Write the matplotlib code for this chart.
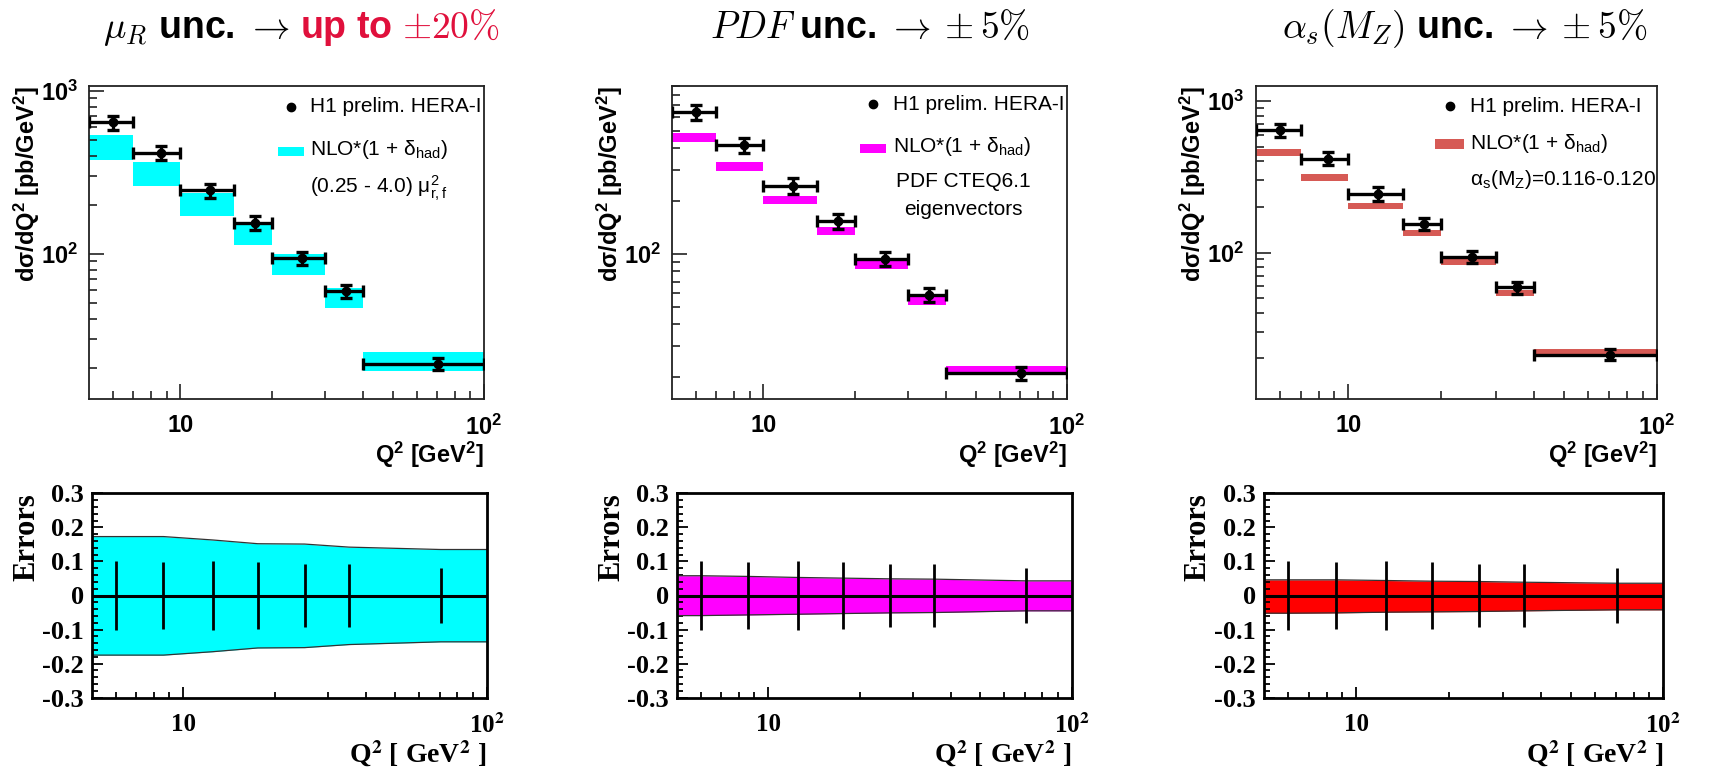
import numpy as np
import matplotlib
matplotlib.use('Agg')
import matplotlib.pyplot as plt
from matplotlib.patches import Rectangle
from matplotlib.ticker import FixedLocator, NullFormatter, MultipleLocator

plt.rcParams['font.family'] = ['Liberation Sans', 'DejaVu Sans']
plt.rcParams['mathtext.fontset'] = 'custom'
plt.rcParams['mathtext.rm'] = 'Liberation Sans'
plt.rcParams['mathtext.bf'] = 'Liberation Sans:bold'
plt.rcParams['mathtext.it'] = 'Liberation Sans:italic'

# Q^2 binning and bin centres
q2_edges = [5, 7, 10, 15, 20, 30, 40, 100]
q2_centers = [6.0, 8.6, 12.5, 17.6, 25.1, 35.2, 70.6]

# H1 preliminary HERA-I dijet cross sections [pb/GeV^2] and relative errors
xsec_data = [640, 417, 245, 155, 94, 59, 21.2]
xsec_rel_err = [0.100, 0.098, 0.101, 0.098, 0.093, 0.091, 0.082]

# NLO*(1+delta_had) central prediction [pb/GeV^2]
xsec_nlo = [459, 314, 204, 135, 87.2, 54.4, 22.2]

# relative theory uncertainties per bin
scale_up = [0.173, 0.173, 0.163, 0.152, 0.151, 0.142, 0.135]
scale_dn = [-0.175, -0.175, -0.165, -0.154, -0.153, -0.144, -0.136]
pdf_up = [0.058, 0.056, 0.053, 0.051, 0.049, 0.048, 0.043]
pdf_dn = [-0.059, -0.057, -0.055, -0.053, -0.051, -0.050, -0.045]
alphas_up = [0.046, 0.046, 0.044, 0.042, 0.041, 0.039, 0.036]
alphas_dn = [-0.052, -0.051, -0.049, -0.048, -0.047, -0.045, -0.042]

W, H = 1732, 767
fig = plt.figure(figsize=(W / 100, H / 100), dpi=100)


def px_axes(x0, y0, x1, y1):
    return fig.add_axes([x0 / W, 1 - y1 / H, (x1 - x0) / W, (y1 - y0) / H])


minor_q2 = [6, 7, 8, 9, 20, 30, 40, 50, 60, 70, 80, 90]


def draw_top(ax, up, dn, color, ylim):
    lo = np.array(q2_edges[:-1], float)
    hi = np.array(q2_edges[1:], float)
    nlo = np.array(xsec_nlo)
    b_lo = nlo * (1 + np.array(dn))
    b_hi = nlo * (1 + np.array(up))
    ax.bar(lo, b_hi - b_lo, width=hi - lo, bottom=b_lo, align='edge',
           color=color, lw=0, zorder=1)
    x = np.array(q2_centers)
    y = np.array(xsec_data)
    ax.errorbar(x, y, xerr=[x - lo, hi - x], yerr=y * np.array(xsec_rel_err),
                fmt='o', color='k', ms=6, elinewidth=2.4, capsize=4.5,
                capthick=2.4, zorder=3)
    ax.set_xscale('log')
    ax.set_yscale('log')
    ax.set_xlim(5, 100)
    ax.set_ylim(*ylim)
    ax.set_xticks([10, 100], labels=['10', r'10$^{\mathbf{2}}$'],
                  fontweight='bold', fontsize=17)
    ax.xaxis.set_minor_locator(FixedLocator(minor_q2))
    ax.xaxis.set_minor_formatter(NullFormatter())
    decades = [10 ** k for k in range(1, 4) if ylim[0] <= 10 ** k <= ylim[1]]
    ax.set_yticks(decades, labels=[r'10$^{\mathbf{%d}}$' % round(np.log10(d)) for d in decades],
                  fontweight='bold', fontsize=17)
    ymin = [m * 10 ** k for k in range(1, 4) for m in range(2, 10)]
    ax.yaxis.set_minor_locator(FixedLocator(ymin))
    ax.yaxis.set_minor_formatter(NullFormatter())
    ax.tick_params(which='both', direction='in', top=False, right=False, width=1.2, color='#222')
    ax.tick_params(which='major', length=11)
    ax.tick_params(which='minor', length=5.5)
    ax.tick_params(axis='x', pad=11)
    ax.tick_params(axis='y', pad=8)
    for s in ax.spines.values():
        s.set_linewidth(1.3)
        s.set_color('#222')
    ax.set_ylabel('dσ/dQ$^{\\mathbf{2}}$ [pb/GeV$^{\\mathbf{2}}$]',
                  fontweight='bold', fontsize=17, loc='top')
    ax.yaxis.set_label_coords(-0.118, 1.0)
    ax.set_xlabel(r'Q$^{\mathbf{2}}$ [GeV$^{\mathbf{2}}$]', fontweight='bold',
                  fontsize=17, loc='right')
    ax.xaxis.set_label_coords(1.0, -0.13)


def draw_legend(ax, lx, ly, tx, lines):
    ax.plot([lx], [ly], 'o', color='k', ms=6, transform=ax.transAxes, clip_on=False)
    ax.text(tx, ly, 'H1 prelim. HERA-I', transform=ax.transAxes, fontsize=15,
            va='center', ha='left')
    for pos, txt, kw in lines:
        ax.text(*pos, txt, transform=ax.transAxes, fontsize=15,
                va='center', **kw)


def draw_bottom(ax, up, dn, color):
    x = [5] + q2_centers + [100]
    u = [up[0]] + up + [up[-1]]
    d = [dn[0]] + dn + [dn[-1]]
    ax.fill_between(x, d, u, color=color, lw=0, zorder=1)
    ax.plot(x, u, color='#333', lw=0.9, zorder=2)
    ax.plot(x, d, color='#333', lw=0.9, zorder=2)
    ax.axhline(0, color='k', lw=2.2, zorder=3)
    err = np.array(xsec_rel_err)
    ax.vlines(q2_centers, -err, err, color='k', lw=2.0, zorder=4)
    ax.set_xscale('log')
    ax.set_xlim(5, 100)
    ax.set_ylim(-0.3, 0.3)
    serif = dict(fontfamily='Liberation Serif', fontweight='bold')
    ax.set_xticks([10, 100], labels=['10', r'10$^{\mathbf{2}}$'], fontsize=18,
                  math_fontfamily='stix', **serif)
    ax.xaxis.set_minor_locator(FixedLocator(minor_q2))
    ax.xaxis.set_minor_formatter(NullFormatter())
    yt = [-0.3, -0.2, -0.1, 0, 0.1, 0.2, 0.3]
    ax.set_yticks(yt, labels=['-0.3', '-0.2', '-0.1', '0', '0.1', '0.2', '0.3'],
                  fontsize=19, **serif)
    ax.yaxis.set_minor_locator(MultipleLocator(0.02))
    ax.tick_params(which='both', direction='in', top=False, right=False, width=1.3)
    ax.tick_params(which='major', length=8)
    ax.tick_params(which='minor', length=4)
    ax.tick_params(axis='x', pad=11)
    ax.tick_params(axis='y', pad=6)
    for s in ax.spines.values():
        s.set_linewidth(2.0)
    ax.set_ylabel('Errors', fontsize=22, loc='top', **serif)
    ax.yaxis.set_label_coords(-0.128, 1.0)
    ax.set_xlabel(r'Q$^{\mathbf{2}}$ [ GeV$^{\mathbf{2}}$ ]', fontsize=20,
                  loc='right', math_fontfamily='stix', **serif)
    ax.xaxis.set_label_coords(1.0, -0.2)


cyan = '#00FFFF'
magenta = '#FF00FF'
salmon = '#D65A55'
red = '#FF0000'

# top row: cross sections
ax1 = px_axes(89, 86, 484, 399)
draw_top(ax1, scale_up, scale_dn, cyan, (12.9, 1070))
draw_legend(ax1, 0.511, 0.933, 0.559, [
    ((0.559, 0.796), 'NLO*(1 + δ$_{\\mathrm{had}}$)', {}),
    ((0.559, 0.674), '(0.25 - 4.0) μ$^{\\mathrm{2}}_{\\mathrm{r,f}}$', {}),
])
ax1.add_patch(Rectangle((0.478, 0.776), 0.066, 0.029, transform=ax1.transAxes,
                        color=cyan, lw=0))

ax2 = px_axes(672, 86, 1067, 399)
draw_top(ax2, pdf_up, pdf_dn, magenta, (15.1, 900))
draw_legend(ax2, 0.509, 0.942, 0.559, [
    ((0.559, 0.806), 'NLO*(1 + δ$_{\\mathrm{had}}$)', {}),
    ((0.7375, 0.694), 'PDF CTEQ6.1', {'ha': 'center'}),
    ((0.7375, 0.604), 'eigenvectors', {'ha': 'center'}),
])
ax2.add_patch(Rectangle((0.477, 0.785), 0.065, 0.03, transform=ax2.transAxes,
                        color=magenta, lw=0))

ax3 = px_axes(1255.7, 86, 1656.7, 399)
draw_top(ax3, alphas_up, alphas_dn, salmon, (10.8, 1255))
draw_legend(ax3, 0.4846, 0.936, 0.534, [
    ((0.534, 0.817), 'NLO*(1 + δ$_{\\mathrm{had}}$)', {}),
    ((0.534, 0.70), 'α$_{\\mathrm{s}}$(M$_{\\mathrm{Z}}$)=0.116-0.120', {}),
])
ax3.add_patch(Rectangle((0.447, 0.80), 0.073, 0.03, transform=ax3.transAxes,
                        color=salmon, lw=0))

# bottom row: relative uncertainties
draw_bottom(px_axes(92, 493.3, 486.7, 697.7), scale_up, scale_dn, cyan)
draw_bottom(px_axes(677, 493.3, 1071.7, 697.7), pdf_up, pdf_dn, magenta)
draw_bottom(px_axes(1264, 493.3, 1663.3, 697.7), alphas_up, alphas_dn, red)

# column headings
ty = 1 - 38 / H
tkw = dict(fontsize=27, fontweight='bold', va='baseline', math_fontfamily='cm')
fig.text(290 / W, ty, r'$\mu_R$ unc. $\rightarrow$', ha='right', **tkw)
fig.text(300 / W, ty, r'up to $\pm 20\%$', ha='left', color='#E0103C', **tkw)
fig.text(870 / W, ty, r'$PDF$ unc. $\rightarrow \pm 5\%$', ha='center', **tkw)
fig.text(1465 / W, ty, r'$\alpha_s(M_Z)$ unc. $\rightarrow \pm 5\%$', ha='center', **tkw)

fig.savefig('out.png', dpi=100)
